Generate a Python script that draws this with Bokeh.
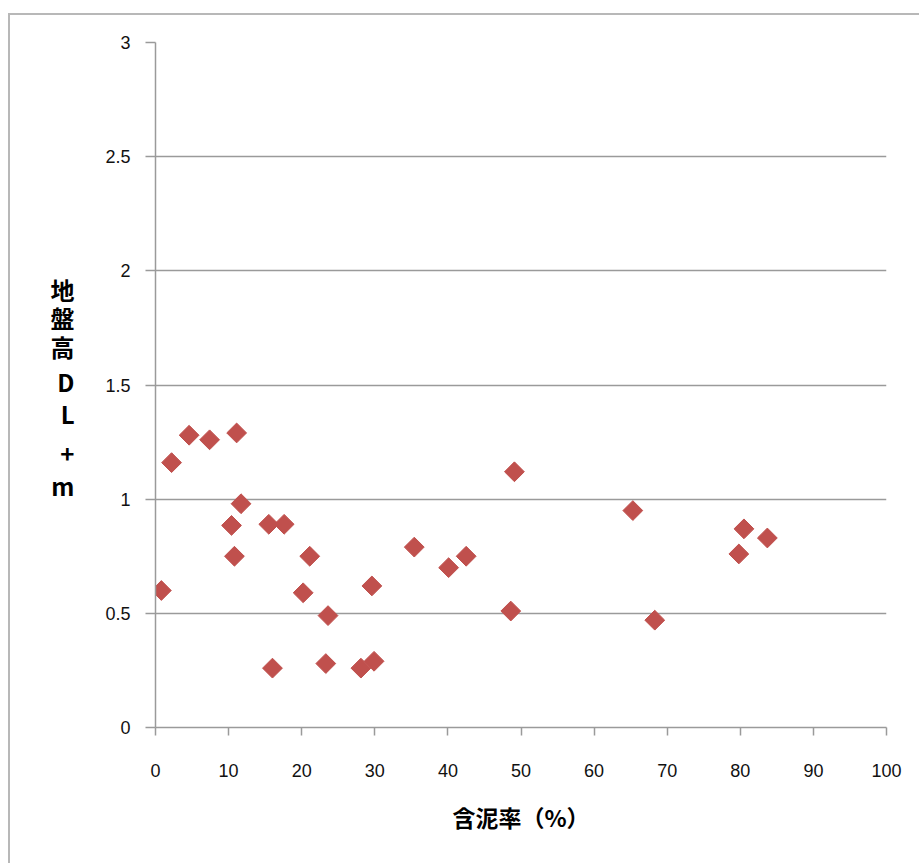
import math
from bokeh.plotting import figure
from bokeh.models import FixedTicker, CustomJSTickFormatter, Range1d, LinearAxis
from bokeh.embed import file_html
from bokeh.resources import INLINE

# data: mud content (%) vs ground height (DL+m)
mud_content = [0.8, 2.2, 4.6, 7.4, 11.1, 11.7, 10.4, 10.8, 15.5, 17.6, 16.0, 21.1, 20.2, 23.6,
               23.3, 28.1, 29.9, 29.6, 35.4, 40.1, 42.5, 49.1, 48.6, 65.3, 68.3, 79.8, 80.5, 83.7]
ground_height = [0.60, 1.16, 1.28, 1.26, 1.29, 0.98, 0.885, 0.75, 0.89, 0.89, 0.26, 0.75, 0.59, 0.49,
                 0.28, 0.26, 0.29, 0.62, 0.79, 0.70, 0.75, 1.12, 0.51, 0.95, 0.47, 0.76, 0.87, 0.83]
x_ticks = [0, 10, 20, 30, 40, 50, 60, 70, 80, 90, 100]
y_ticks = [0, 0.5, 1, 1.5, 2, 2.5, 3]
x_title = "含泥率（%）"
y_title_chars = ["地", "盤", "高", "D", "L", "+", "m"]

GRID = "#9a9a9a"
MARK = "#C0504D"
FONT = "Liberation Sans"
CJK = "Noto Sans CJK JP"

p = figure(width=911, height=850, output_backend="svg", toolbar_location=None,
           x_range=Range1d(0, 100), y_range=Range1d(0, 3),
           min_border_left=145, min_border_right=35, min_border_top=27, min_border_bottom=138)
p.styles = {"border-left": "2px solid #b8b8b8", "border-top": "2px solid #b8b8b8",
            "margin-top": "13px", "margin-left": "8px"}
p.outline_line_color = None
p.background_fill_color = "white"
p.border_fill_color = "white"

p.xgrid.visible = False
p.ygrid.grid_line_color = GRID
p.ygrid.grid_line_width = 1.5
p.ygrid.ticker = FixedTicker(ticks=y_ticks)

fmt = CustomJSTickFormatter(code="return String(tick);")

xa = p.xaxis[0]
xa.ticker = FixedTicker(ticks=x_ticks)
xa.formatter = fmt
xa.axis_line_color = GRID
xa.axis_line_width = 1.5
xa.major_tick_line_color = GRID
xa.major_tick_line_width = 1.5
xa.major_tick_out = 8
xa.major_tick_in = 0
xa.minor_tick_line_color = None
xa.major_label_text_font = FONT
xa.major_label_text_font_size = "18px"
xa.major_label_text_color = "#111111"
xa.major_label_standoff = 28
xa.axis_label = x_title
xa.axis_label_text_font = CJK
xa.axis_label_text_font_style = "bold"
xa.axis_label_text_font_size = "23px"
xa.axis_label_text_color = "black"
xa.axis_label_standoff = 20

ya = p.yaxis[0]
ya.ticker = FixedTicker(ticks=y_ticks)
ya.formatter = fmt
ya.axis_line_color = GRID
ya.axis_line_width = 1.5
ya.major_tick_line_color = GRID
ya.major_tick_line_width = 1.5
ya.major_tick_out = 10
ya.major_tick_in = 0
ya.minor_tick_line_color = None
ya.major_label_text_font = FONT
ya.major_label_text_font_size = "18px"
ya.major_label_text_color = "#111111"
ya.major_label_standoff = 15

p.scatter(mud_content, ground_height, marker="square", size=14, angle=math.pi / 4,
          fill_color=MARK, line_color=MARK, line_width=1)

# stacked vertical y-axis title, drawn as the labels of an extra, line-less axis
label_y = [1.060, 1.205, 1.375, 1.516, 1.669, 1.796, 1.918]   # bottom to top
title_axis = LinearAxis(
    ticker=FixedTicker(ticks=label_y),
    formatter=CustomJSTickFormatter(args={"chars": y_title_chars[::-1]},
                                    code="return chars[index];"),
    axis_line_color=None, major_tick_line_color=None, minor_tick_line_color=None,
    major_tick_out=0, major_tick_in=0,
    major_label_text_font=CJK, major_label_text_font_style="bold",
    major_label_text_font_size="24px", major_label_text_color="black",
    major_label_text_align="center", major_label_standoff=28)
p.add_layout(title_axis, "left")

open("out.html", "w").write(file_html(p, INLINE))
